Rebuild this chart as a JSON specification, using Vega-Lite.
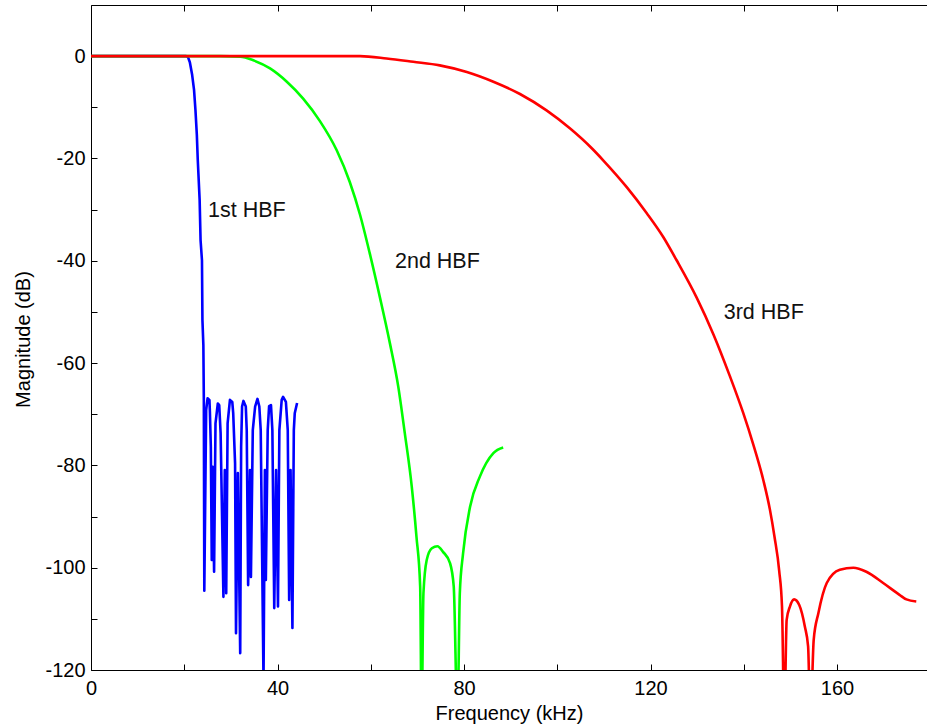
{
  "$schema": "https://vega.github.io/schema/vega-lite/v6.json",
  "width": 836,
  "height": 665,
  "autosize": {"type": "none"},
  "padding": {"left": 91, "top": 5, "right": 0, "bottom": 57},
  "background": "white",
  "config": {
    "view": {"stroke": null},
    "font": "Liberation Sans",
    "axis": {
      "grid": false,
      "domainColor": "black",
      "domainWidth": 1,
      "tickColor": "black",
      "tickWidth": 1,
      "tickSize": -6,
      "labelFont": "Liberation Sans",
      "labelFontSize": 20,
      "labelColor": "black",
      "titleFont": "Liberation Sans",
      "titleFontSize": 20,
      "titleFontWeight": "normal",
      "titleColor": "black"
    }
  },
  "datasets": {
    "curves": [
      {"filter": "1st HBF", "f": 0, "db": 0},
      {"filter": "1st HBF", "f": 20.4, "db": 0},
      {"filter": "1st HBF", "f": 20.8, "db": -0.2},
      {"filter": "1st HBF", "f": 21.2, "db": -1.2},
      {"filter": "1st HBF", "f": 21.7, "db": -3.7},
      {"filter": "1st HBF", "f": 22.1, "db": -6.6},
      {"filter": "1st HBF", "f": 22.4, "db": -10.5},
      {"filter": "1st HBF", "f": 22.7, "db": -15.4},
      {"filter": "1st HBF", "f": 22.9, "db": -20.3},
      {"filter": "1st HBF", "f": 23.3, "db": -28.1},
      {"filter": "1st HBF", "f": 23.5, "db": -36},
      {"filter": "1st HBF", "f": 23.8, "db": -39.9},
      {"filter": "1st HBF", "f": 23.9, "db": -51.6},
      {"filter": "1st HBF", "f": 24.1, "db": -56.5},
      {"filter": "1st HBF", "f": 24.2, "db": -67.2},
      {"filter": "1st HBF", "f": 24.3, "db": -104.5},
      {"filter": "1st HBF", "f": 24.7, "db": -69.2},
      {"filter": "1st HBF", "f": 25.0, "db": -66.9},
      {"filter": "1st HBF", "f": 25.4, "db": -67.2},
      {"filter": "1st HBF", "f": 25.5, "db": -69.5},
      {"filter": "1st HBF", "f": 25.7, "db": -76.3},
      {"filter": "1st HBF", "f": 25.9, "db": -98.5},
      {"filter": "1st HBF", "f": 26.1, "db": -80.3},
      {"filter": "1st HBF", "f": 26.4, "db": -100.8},
      {"filter": "1st HBF", "f": 26.7, "db": -71.8},
      {"filter": "1st HBF", "f": 27.2, "db": -67.9},
      {"filter": "1st HBF", "f": 27.5, "db": -68.2},
      {"filter": "1st HBF", "f": 27.8, "db": -73.7},
      {"filter": "1st HBF", "f": 28.4, "db": -105.7},
      {"filter": "1st HBF", "f": 28.7, "db": -80.9},
      {"filter": "1st HBF", "f": 29.0, "db": -105},
      {"filter": "1st HBF", "f": 29.3, "db": -71.8},
      {"filter": "1st HBF", "f": 29.8, "db": -67.2},
      {"filter": "1st HBF", "f": 30.3, "db": -67.6},
      {"filter": "1st HBF", "f": 30.5, "db": -69.8},
      {"filter": "1st HBF", "f": 30.9, "db": -79.6},
      {"filter": "1st HBF", "f": 31.1, "db": -112.8},
      {"filter": "1st HBF", "f": 31.5, "db": -81.5},
      {"filter": "1st HBF", "f": 32.0, "db": -116.7},
      {"filter": "1st HBF", "f": 32.2, "db": -76.3},
      {"filter": "1st HBF", "f": 32.4, "db": -68.5},
      {"filter": "1st HBF", "f": 32.7, "db": -67.4},
      {"filter": "1st HBF", "f": 33.2, "db": -68.5},
      {"filter": "1st HBF", "f": 33.4, "db": -73.1},
      {"filter": "1st HBF", "f": 33.7, "db": -103.4},
      {"filter": "1st HBF", "f": 34.1, "db": -80.9},
      {"filter": "1st HBF", "f": 34.3, "db": -101.8},
      {"filter": "1st HBF", "f": 34.7, "db": -73.1},
      {"filter": "1st HBF", "f": 35.2, "db": -68.5},
      {"filter": "1st HBF", "f": 35.7, "db": -67.0},
      {"filter": "1st HBF", "f": 36.1, "db": -68.5},
      {"filter": "1st HBF", "f": 36.4, "db": -73.1},
      {"filter": "1st HBF", "f": 37.0, "db": -122},
      {"filter": "1st HBF", "f": 37.3, "db": -80.9},
      {"filter": "1st HBF", "f": 37.5, "db": -102.4},
      {"filter": "1st HBF", "f": 37.9, "db": -73.1},
      {"filter": "1st HBF", "f": 38.2, "db": -68.4},
      {"filter": "1st HBF", "f": 38.6, "db": -68.2},
      {"filter": "1st HBF", "f": 38.9, "db": -73.1},
      {"filter": "1st HBF", "f": 39.3, "db": -107.9},
      {"filter": "1st HBF", "f": 39.7, "db": -80.9},
      {"filter": "1st HBF", "f": 40.1, "db": -107.6},
      {"filter": "1st HBF", "f": 40.4, "db": -73.1},
      {"filter": "1st HBF", "f": 40.9, "db": -67.2},
      {"filter": "1st HBF", "f": 41.2, "db": -66.6},
      {"filter": "1st HBF", "f": 41.8, "db": -67.6},
      {"filter": "1st HBF", "f": 42.2, "db": -73.1},
      {"filter": "1st HBF", "f": 42.5, "db": -106.3},
      {"filter": "1st HBF", "f": 42.8, "db": -80.9},
      {"filter": "1st HBF", "f": 43.2, "db": -111.8},
      {"filter": "1st HBF", "f": 43.5, "db": -73.1},
      {"filter": "1st HBF", "f": 43.7, "db": -69.8},
      {"filter": "1st HBF", "f": 44.2, "db": -67.8},

      {"filter": "2nd HBF", "f": 0, "db": 0},
      {"filter": "2nd HBF", "f": 27.7, "db": 0},
      {"filter": "2nd HBF", "f": 32.0, "db": -0.1},
      {"filter": "2nd HBF", "f": 34.8, "db": -0.8},
      {"filter": "2nd HBF", "f": 38.4, "db": -2.4},
      {"filter": "2nd HBF", "f": 42.0, "db": -5.0},
      {"filter": "2nd HBF", "f": 45.5, "db": -8.3},
      {"filter": "2nd HBF", "f": 49.1, "db": -12.7},
      {"filter": "2nd HBF", "f": 52.7, "db": -18.4},
      {"filter": "2nd HBF", "f": 55.5, "db": -24.6},
      {"filter": "2nd HBF", "f": 57.7, "db": -31.0},
      {"filter": "2nd HBF", "f": 59.8, "db": -38.6},
      {"filter": "2nd HBF", "f": 62.0, "db": -47.3},
      {"filter": "2nd HBF", "f": 64.1, "db": -56.1},
      {"filter": "2nd HBF", "f": 65.9, "db": -64.6},
      {"filter": "2nd HBF", "f": 67.3, "db": -73.7},
      {"filter": "2nd HBF", "f": 68.8, "db": -84.2},
      {"filter": "2nd HBF", "f": 69.8, "db": -93.9},
      {"filter": "2nd HBF", "f": 70.6, "db": -103.7},
      {"filter": "2nd HBF", "f": 70.9, "db": -130},
      {"filter": "2nd HBF", "f": 71.3, "db": -105},
      {"filter": "2nd HBF", "f": 72.0, "db": -98.5},
      {"filter": "2nd HBF", "f": 73.1, "db": -96.2},
      {"filter": "2nd HBF", "f": 74.3, "db": -95.8},
      {"filter": "2nd HBF", "f": 75.5, "db": -96.9},
      {"filter": "2nd HBF", "f": 77.0, "db": -99.1},
      {"filter": "2nd HBF", "f": 77.8, "db": -103.7},
      {"filter": "2nd HBF", "f": 78.6, "db": -130},
      {"filter": "2nd HBF", "f": 79.1, "db": -105},
      {"filter": "2nd HBF", "f": 79.8, "db": -97.2},
      {"filter": "2nd HBF", "f": 81.3, "db": -88.1},
      {"filter": "2nd HBF", "f": 83.4, "db": -82.2},
      {"filter": "2nd HBF", "f": 86.3, "db": -77.6},
      {"filter": "2nd HBF", "f": 88.4, "db": -76.5},

      {"filter": "3rd HBF", "f": 0, "db": 0},
      {"filter": "3rd HBF", "f": 57.7, "db": 0},
      {"filter": "3rd HBF", "f": 63.4, "db": -0.45},
      {"filter": "3rd HBF", "f": 69.1, "db": -1.1},
      {"filter": "3rd HBF", "f": 74.8, "db": -1.8},
      {"filter": "3rd HBF", "f": 80.6, "db": -3.1},
      {"filter": "3rd HBF", "f": 86.3, "db": -5.0},
      {"filter": "3rd HBF", "f": 92.0, "db": -7.4},
      {"filter": "3rd HBF", "f": 97.7, "db": -10.6},
      {"filter": "3rd HBF", "f": 102.7, "db": -14.1},
      {"filter": "3rd HBF", "f": 107.4, "db": -18.0},
      {"filter": "3rd HBF", "f": 109.9, "db": -20.4},
      {"filter": "3rd HBF", "f": 114.9, "db": -25.6},
      {"filter": "3rd HBF", "f": 119.2, "db": -30.7},
      {"filter": "3rd HBF", "f": 122.7, "db": -35.3},
      {"filter": "3rd HBF", "f": 125.6, "db": -39.9},
      {"filter": "3rd HBF", "f": 129.9, "db": -47.2},
      {"filter": "3rd HBF", "f": 133.5, "db": -54.4},
      {"filter": "3rd HBF", "f": 137.0, "db": -62.5},
      {"filter": "3rd HBF", "f": 139.9, "db": -69.8},
      {"filter": "3rd HBF", "f": 142.0, "db": -75.8},
      {"filter": "3rd HBF", "f": 144.2, "db": -82.9},
      {"filter": "3rd HBF", "f": 145.6, "db": -88.6},
      {"filter": "3rd HBF", "f": 146.6, "db": -94.0},
      {"filter": "3rd HBF", "f": 147.6, "db": -100.6},
      {"filter": "3rd HBF", "f": 148.2, "db": -107.6},
      {"filter": "3rd HBF", "f": 148.7, "db": -130},
      {"filter": "3rd HBF", "f": 149.2, "db": -110.2},
      {"filter": "3rd HBF", "f": 149.9, "db": -107.6},
      {"filter": "3rd HBF", "f": 150.8, "db": -106.2},
      {"filter": "3rd HBF", "f": 151.9, "db": -107.3},
      {"filter": "3rd HBF", "f": 153.1, "db": -111.5},
      {"filter": "3rd HBF", "f": 153.8, "db": -115.4},
      {"filter": "3rd HBF", "f": 154.3, "db": -130},
      {"filter": "3rd HBF", "f": 155.0, "db": -114.1},
      {"filter": "3rd HBF", "f": 156.0, "db": -108.9},
      {"filter": "3rd HBF", "f": 157.8, "db": -103.0},
      {"filter": "3rd HBF", "f": 160.6, "db": -100.4},
      {"filter": "3rd HBF", "f": 163.5, "db": -100.0},
      {"filter": "3rd HBF", "f": 166.3, "db": -100.8},
      {"filter": "3rd HBF", "f": 169.9, "db": -103.0},
      {"filter": "3rd HBF", "f": 173.4, "db": -105.3},
      {"filter": "3rd HBF", "f": 174.9, "db": -106.2},
      {"filter": "3rd HBF", "f": 177.0, "db": -106.6}
    ],
    "labels": [
      {"label": "1st HBF", "f": 25.1, "db": -31.5},
      {"label": "2nd HBF", "f": 65.2, "db": -41.4},
      {"label": "3rd HBF", "f": 135.7, "db": -51.4}
    ]
  },
  "resolve": {"axis": {"x": "independent"}},
  "layer": [
    {
      "data": {"name": "curves"},
      "transform": [{"filter": "datum.filter == '1st HBF'"}],
      "mark": {"type": "line", "strokeWidth": 2.6, "clip": true, "strokeJoin": "round"},
      "encoding": {
        "x": {
          "field": "f", "type": "quantitative",
          "scale": {"domain": [0, 179.3], "nice": false, "zero": false},
          "axis": {
            "orient": "bottom",
            "title": "Frequency (kHz)",
            "values": [0, 20, 40, 60, 80, 100, 120, 140, 160],
            "labelExpr": "datum.value % 40 == 0 ? '' + datum.value : ''",
            "labelPadding": 14,
            "labelFlush": false,
            "labelOverlap": false,
            "titleAnchor": "middle",
            "titleBaseline": "alphabetic",
            "titleY": 49
          }
        },
        "y": {
          "field": "db", "type": "quantitative",
          "scale": {"domain": [-120, 10], "nice": false, "zero": false},
          "axis": {
            "orient": "left",
            "title": "Magnitude (dB)",
            "values": [-120, -110, -100, -90, -80, -70, -60, -50, -40, -30, -20, -10, 0],
            "labelExpr": "datum.value % 20 == 0 ? '' + datum.value : ''",
            "labelPadding": 12,
            "labelFlush": false,
            "labelOverlap": false,
            "titleAngle": -90,
            "titleAlign": "center",
            "titleBaseline": "alphabetic",
            "titleX": -62,
            "titleY": 334
          }
        },
        "color": {
          "field": "filter", "type": "nominal",
          "scale": {"domain": ["1st HBF", "2nd HBF", "3rd HBF"], "range": ["#0000ff", "#00ff00", "#ff0000"]},
          "legend": null
        }
      }
    },
    {
      "data": {"name": "curves"},
      "transform": [{"filter": "datum.filter != '1st HBF'"}],
      "mark": {"type": "line", "strokeWidth": 2.6, "clip": true, "strokeJoin": "round", "interpolate": "monotone"},
      "encoding": {
        "x": {"field": "f", "type": "quantitative", "axis": null},
        "y": {"field": "db", "type": "quantitative"},
        "color": {"field": "filter", "type": "nominal", "legend": null}
      }
    },
    {
      "data": {"name": "labels"},
      "mark": {"type": "text", "align": "left", "baseline": "alphabetic", "fontSize": 21.5, "font": "Liberation Sans", "color": "#111111"},
      "encoding": {
        "x": {
          "field": "f", "type": "quantitative",
          "axis": {
            "orient": "top",
            "title": null,
            "labels": false,
            "values": [0, 20, 40, 60, 80, 100, 120, 140, 160]
          }
        },
        "y": {"field": "db", "type": "quantitative"},
        "text": {"field": "label"}
      }
    }
  ]
}
